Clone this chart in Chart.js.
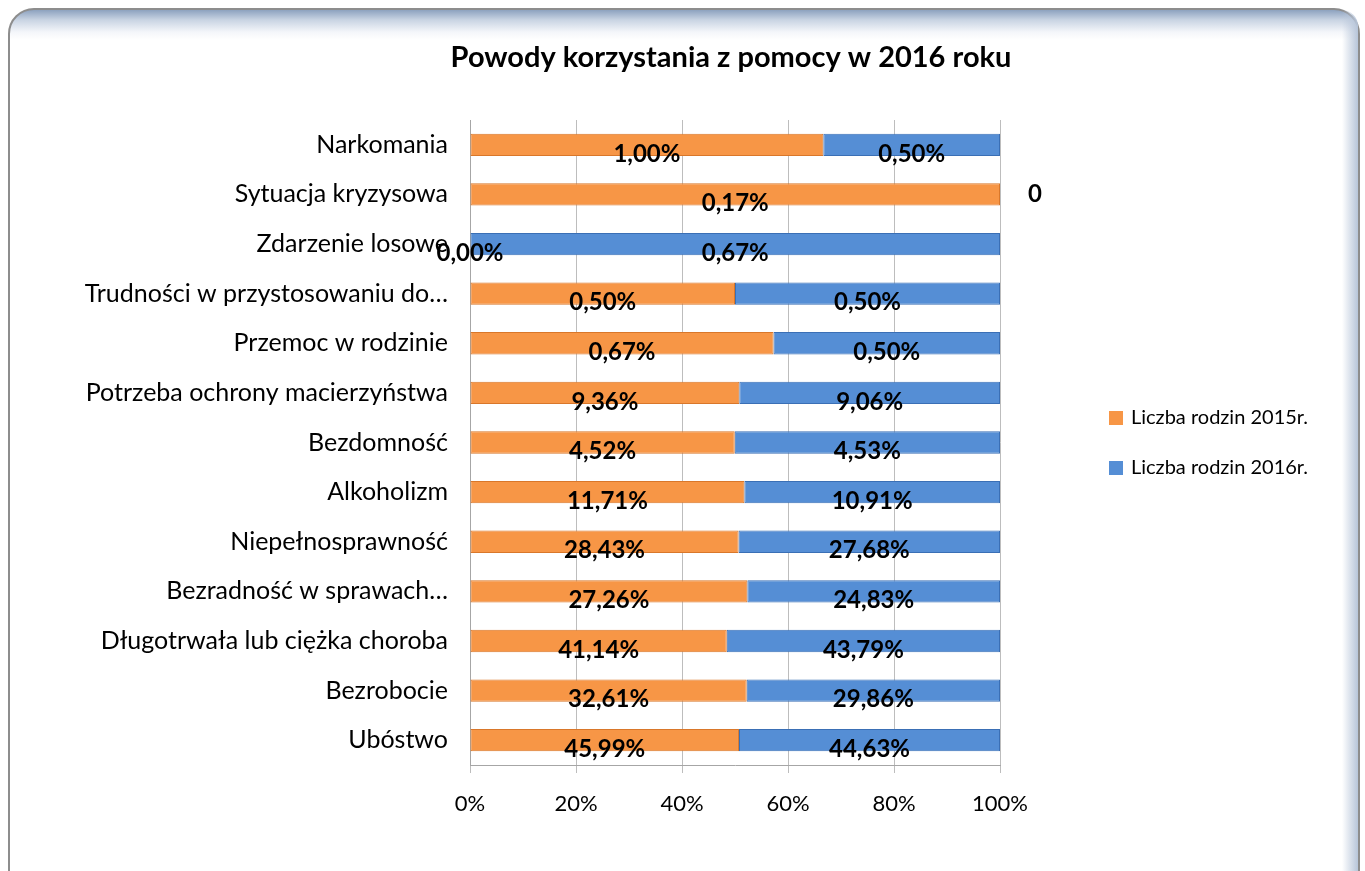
<!DOCTYPE html>
<html><head><meta charset="utf-8">
<script src="https://cdn.jsdelivr.net/npm/chart.js@4"></script>
<style>
html,body{margin:0;padding:0;background:#fff;width:1365px;height:871px;overflow:hidden;}
#frame{position:absolute;left:8px;top:8px;width:1352px;height:900px;border-radius:26px;border:2px solid #8d8d8d;
background:linear-gradient(to bottom,#8da2bf 0px,#c9d4e3 10px,#f4f6fa 22px,#fff 30px);box-sizing:border-box;}
#rside{position:absolute;right:0;top:0;width:16px;height:100%;border-radius:0 26px 0 0;background:linear-gradient(to right,rgba(255,255,255,0),#b7c5d9);}
#c{position:absolute;left:0;top:0;}
</style></head>
<body>
<div id="frame"><div id="rside"></div></div>
<canvas id="c" width="1365" height="871"></canvas>
<script>
const categories = ["Narkomania","Sytuacja kryzysowa","Zdarzenie losowe","Trudności w przystosowaniu do…","Przemoc w rodzinie","Potrzeba ochrony macierzyństwa","Bezdomność","Alkoholizm","Niepełnosprawność","Bezradność w sprawach…","Długotrwała lub ciężka choroba","Bezrobocie","Ubóstwo"];
const families2015 = [1.00,0.17,0.00,0.50,0.67,9.36,4.52,11.71,28.43,27.26,41.14,32.61,45.99];
const families2016 = [0.50,0,0.67,0.50,0.50,9.06,4.53,10.91,27.68,24.83,43.79,29.86,44.63];
const seriesNames = ["Liczba rodzin 2015r.","Liczba rodzin 2016r."];
const xTicks = [0,20,40,60,80,100];
const titleText = "Powody korzystania z pomocy w 2016 roku";

const FONT = "Lato, 'Open Sans', sans-serif";
const colors = ["#F79646","#558ED5"];
const borders = ["#d9772a","#3a6fb5"];

// 100% stacked: share of each series in the row total
const totals = categories.map((_, i) => families2015[i] + families2016[i]);
const share = arr => arr.map((v, i) => totals[i] ? v / totals[i] * 100 : 0);
const raw = [families2015, families2016];

const fmt = v => v.toFixed(2).replace('.', ',') + '%';

const labelPlugin = {
  id: 'labels',
  afterDatasetsDraw(chart) {
    const ctx = chart.ctx;
    ctx.save();
    ctx.font = "bold 24px " + FONT;
    ctx.fillStyle = "#000";
    ctx.textBaseline = "middle";
    chart.data.datasets.forEach((ds, di) => {
      const meta = chart.getDatasetMeta(di);
      meta.data.forEach((bar, i) => {
        const v = raw[di][i];
        if (di === 1 && v === 0) {
          ctx.textAlign = "left";
          ctx.fillText("0", bar.x + 28, bar.y);
          return;
        }
        ctx.textAlign = "center";
        const cx = (bar.x + bar.base) / 2;
        ctx.fillText(fmt(v), cx, bar.y + 9);
      });
    });
    // title
    ctx.font = "bold 29px " + FONT;
    ctx.textAlign = "center";
    ctx.fillText(titleText, 731, 58);
    // legend
    ctx.font = "20px " + FONT;
    ctx.textAlign = "left";
    seriesNames.forEach((n, k) => {
      const y = 418 + k * 50;
      ctx.fillStyle = colors[k];
      ctx.fillRect(1109, y - 7, 14, 14);
      ctx.fillStyle = "#000";
      ctx.fillText(n, 1131, y);
    });
    ctx.restore();
  }
};

new Chart(document.getElementById('c'), {
  type: 'bar',
  data: {
    labels: categories,
    datasets: [0, 1].map(k => ({
      label: seriesNames[k],
      data: share(raw[k]),
      backgroundColor: colors[k],
      borderColor: borders[k],
      borderWidth: 1,
      borderSkipped: false,
      barPercentage: 0.45,
      categoryPercentage: 1
    }))
  },
  options: {
    responsive: false,
    animation: false,
    indexAxis: 'y',
    layout: { padding: { top: 120, right: 365, bottom: 0, left: 0 } },
    plugins: { legend: { display: false }, title: { display: false }, tooltip: { enabled: false } },
    scales: {
      x: {
        stacked: true, min: 0, max: 100,
        afterBuildTicks: s => { s.ticks = xTicks.map(v => ({ value: v })); },
        ticks: { callback: v => v + '%', color: '#000', font: { family: FONT, size: 22 }, padding: 18 },
        grid: { color: '#bdbdbd', drawTicks: true, tickLength: 8 },
        border: { color: '#a6a6a6' },
        afterFit: s => { s.height = 106; }
      },
      y: {
        stacked: true,
        ticks: { color: '#000', font: { family: FONT, size: 25 }, padding: 14 },
        grid: { display: false, drawTicks: true },
        border: { color: '#a6a6a6' },
        afterFit: s => { s.width = 470; }
      }
    }
  },
  plugins: [labelPlugin]
});
</script>
</body></html>
